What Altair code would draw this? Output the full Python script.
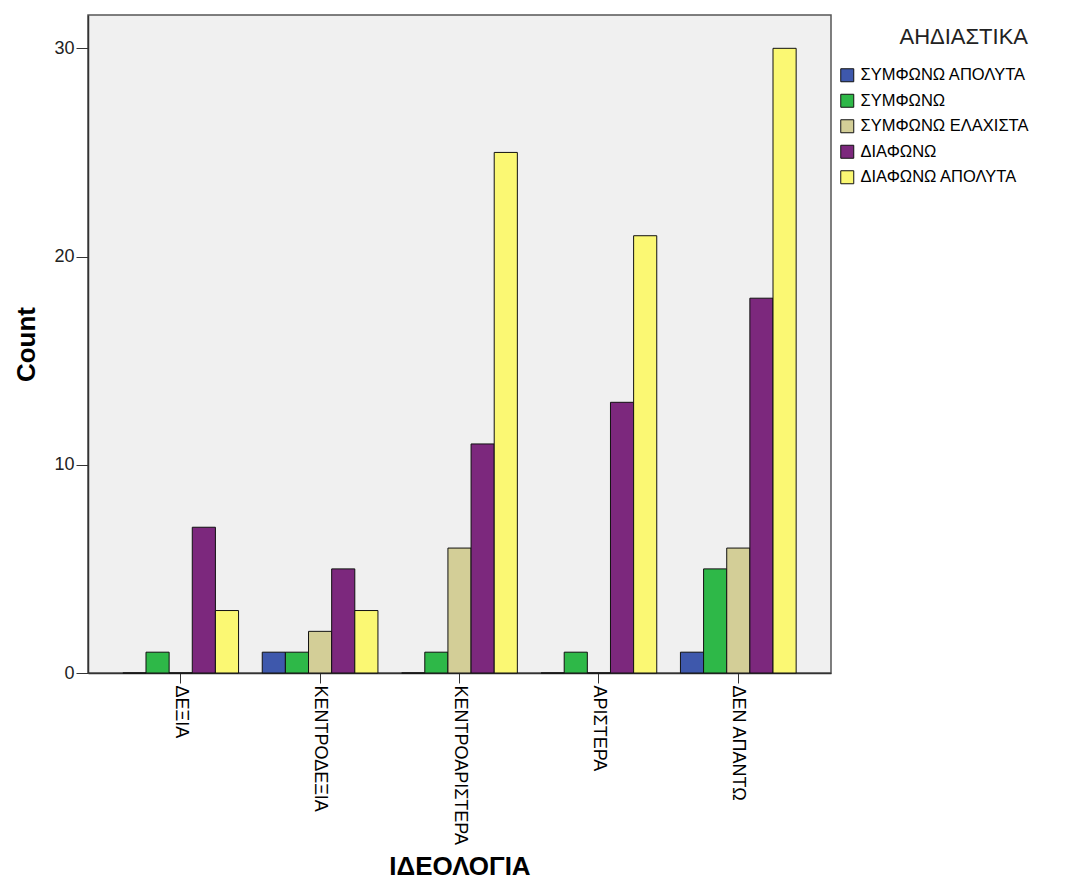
import altair as alt
import pandas as pd

categories = ["ΔΕΞΙΑ", "ΚΕΝΤΡΟΔΕΞΙΑ", "ΚΕΝΤΡΟΑΡΙΣΤΕΡΑ", "ΑΡΙΣΤΕΡΑ", "ΔΕΝ ΑΠΑΝΤΩ"]
series = ["ΣΥΜΦΩΝΩ ΑΠΟΛΥΤΑ", "ΣΥΜΦΩΝΩ", "ΣΥΜΦΩΝΩ ΕΛΑΧΙΣΤΑ", "ΔΙΑΦΩΝΩ", "ΔΙΑΦΩΝΩ ΑΠΟΛΥΤΑ"]
colors = ["#3E58AC", "#2EB848", "#D3CE97", "#7C287D", "#FBF873"]

sympho_apolyta = [0, 1, 0, 0, 1]
sympho = [1, 1, 1, 1, 5]
sympho_elaxista = [0, 2, 6, 0, 6]
diafono = [7, 5, 11, 13, 18]
diafono_apolyta = [3, 3, 25, 21, 30]

values = [sympho_apolyta, sympho, sympho_elaxista, diafono, diafono_apolyta]
rows = []
for s, vals in zip(series, values):
    for c, v in zip(categories, vals):
        rows.append({"ΙΔΕΟΛΟΓΙΑ": c, "ΑΗΔΙΑΣΤΙΚΑ": s, "Count": v})
df = pd.DataFrame(rows)

font = "Liberation Sans"

chart = alt.Chart(df).mark_bar(stroke="#111111", strokeWidth=1).encode(
    x=alt.X("ΙΔΕΟΛΟΓΙΑ:N", sort=categories,
            scale=alt.Scale(paddingInner=0.17, paddingOuter=0.25),
            axis=alt.Axis(title="ΙΔΕΟΛΟΓΙΑ", labelAngle=90, labelAlign="left",
                          labelBaseline="middle", labelFontSize=18, labelColor="#000000",
                          titleFontSize=26, titleFontWeight="bold", titlePadding=9,
                          titleColor="#000000", domainColor="#333333", domainWidth=1.5,
                          tickColor="#333333", tickSize=10, labelPadding=2)),
    xOffset=alt.XOffset("ΑΗΔΙΑΣΤΙΚΑ:N", sort=series, scale=alt.Scale(paddingInner=0, paddingOuter=0)),
    y=alt.Y("Count:Q", scale=alt.Scale(domain=[0, 31.6], nice=False),
            axis=alt.Axis(values=[0, 10, 20, 30], grid=False, title="Count",
                          labelFontSize=18, labelColor="#222222", titleFontSize=26,
                          titleFontWeight="bold", titleColor="#000000", titlePadding=14,
                          domainColor="#333333", domainWidth=1.5, tickColor="#333333",
                          tickSize=12, labelPadding=2)),
    color=alt.Color("ΑΗΔΙΑΣΤΙΚΑ:N", sort=series,
                    scale=alt.Scale(domain=series, range=colors),
                    legend=alt.Legend(title="ΑΗΔΙΑΣΤΙΚΑ", symbolType="square", symbolSize=169,
                                      symbolStrokeColor="#111111", symbolStrokeWidth=1,
                                      labelFontSize=16.5, labelColor="#000000", labelOffset=5,
                                      labelLimit=400,
                                      titleFontSize=22, titleFontWeight="normal",
                                      titleColor="#222222", titleAnchor="end",
                                      titlePadding=18, rowPadding=7.5,
                                      orient="none", legendX=751, legendY=12)),
).properties(
    width=743, height=658, padding={"top": 7, "left": 5, "right": 5, "bottom": 5}
).configure(font=font).configure_view(
    fill="#F0F0F0", stroke="#555555", strokeWidth=1.5
)

chart.save("out.html", embed_options={"renderer": "svg", "actions": False})
